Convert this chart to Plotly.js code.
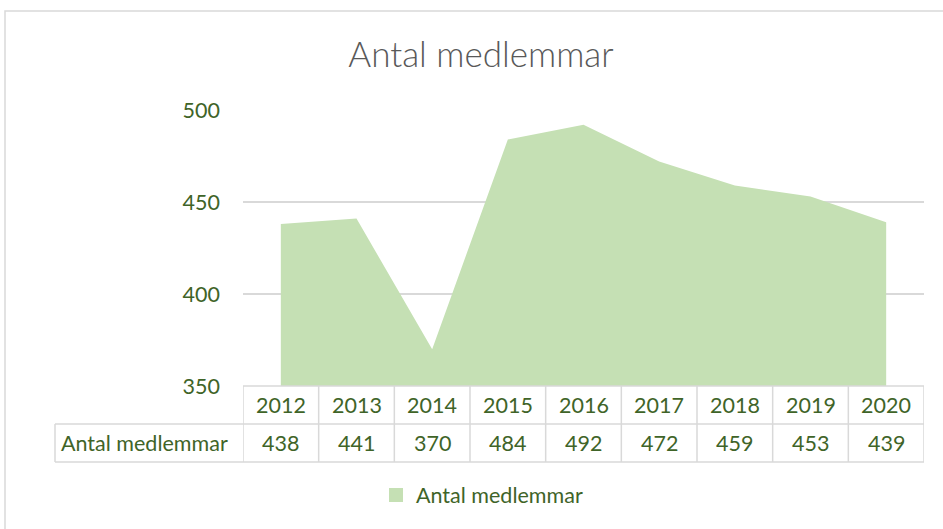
<!DOCTYPE html>
<html><head><meta charset="utf-8">
<script src="https://cdn.plot.ly/plotly-3.0.1.min.js"></script>
<style>html,body{margin:0;padding:0;background:#fff}#c{width:943px;height:529px}</style>
</head><body><div id="c"></div>
<script>
const years = ['2012','2013','2014','2015','2016','2017','2018','2019','2020'];
const members = [438, 441, 370, 484, 492, 472, 459, 453, 439];
const seriesName = 'Antal medlemmar';
const yTicks = [350, 400, 450, 500];

const txt = '#3f6428';
const grid = '#d9d9d9';
const FONT = 'Lato, "Open Sans", sans-serif';
const FS = 21.5;
const W = 943, H = 529, L = 243, R = 19, T = 110, B = 143;
const pw = W - L - R, ph = H - T - B;
const py = px => (H - B - px) / ph;  // pixel y -> paper
const pxx = px => (px - L) / pw;     // pixel x -> paper

const idx = years.map((_, i) => i);
const shapes = [];
const ann = [];
const yHead = py(405), yVal = py(443);
[[386, L], [424, 55], [462, 55]].forEach(([y, x0]) => {
  shapes.push({type:'line', xref:'paper', yref:'paper', x0:pxx(x0), x1:1, y0:py(y), y1:py(y), line:{color:grid, width:1.5}});
});
for (let i = 0; i <= years.length; i++) {
  shapes.push({type:'line', xref:'x', yref:'paper', x0:i-0.5, x1:i-0.5, y0:py(386), y1:py(462), line:{color:grid, width:1.5}});
}
shapes.push({type:'line', xref:'paper', yref:'paper', x0:pxx(55), x1:pxx(55), y0:py(424), y1:py(462), line:{color:grid, width:1.5}});
shapes.push({type:'rect', xref:'paper', yref:'paper', x0:pxx(5), x1:pxx(960), y0:py(11), y1:py(560), line:{color:'#d9d9d9', width:1.5}, fillcolor:'rgba(0,0,0,0)', layer:'below'});

years.forEach((yr, i) => {
  ann.push({x:i, xref:'x', y:yHead, yref:'paper', text:yr, showarrow:false, xanchor:'center', yanchor:'middle', font:{family:FONT, size:FS, color:txt}});
  ann.push({x:i, xref:'x', y:yVal, yref:'paper', text:String(members[i]), showarrow:false, xanchor:'center', yanchor:'middle', font:{family:FONT, size:FS, color:txt}});
});
ann.push({x:pxx(59), xref:'paper', y:yVal, yref:'paper', text:seriesName, showarrow:false, xanchor:'left', yanchor:'middle', font:{family:FONT, size:FS, color:txt}});

const trace = {
  x: idx, y: members, type:'scatter', mode:'lines', name: seriesName, showlegend:false,
  fill:'tozeroy', fillcolor:'#c5e0b4', line:{width:0, color:'#c5e0b4'}, hoverinfo:'skip'
};
const legendItem = {
  x:[null], y:[null], type:'scatter', mode:'markers', name: seriesName, showlegend:true,
  marker:{symbol:'square', size:14, color:'#c5e0b4'}
};

Plotly.newPlot('c', [trace, legendItem], {
  width: W, height: H,
  margin: {l:L, r:R, t:T, b:B},
  paper_bgcolor:'#fff', plot_bgcolor:'#fff',
  title: {text: 'Antal medlemmar', xref:'container', yref:'container', x:481/W, y:1-55/H, xanchor:'center', yanchor:'middle', font:{family:FONT, size:35, weight:300, color:'#595959'}},
  xaxis: {range:[-0.5, years.length-0.5], showticklabels:false, showgrid:false, zeroline:false, showline:false, ticks:'', fixedrange:true},
  yaxis: {range:[350, 500], tickvals:yTicks, ticktext:yTicks.map(String), showgrid:true, gridcolor:grid, gridwidth:1.5, zeroline:false, showline:false, ticks:'', ticklabelstandoff:22, tickfont:{family:FONT, size:FS, color:txt}, fixedrange:true},
  showlegend:true,
  legend: {orientation:'h', x:482/W, xref:'container', xanchor:'center', y:1-495/H, yref:'container', yanchor:'middle', font:{family:FONT, size:FS, color:txt}, itemwidth:30},
  shapes: shapes, annotations: ann,
  hovermode:false
}, {displayModeBar:false, staticPlot:true});
</script></body></html>
